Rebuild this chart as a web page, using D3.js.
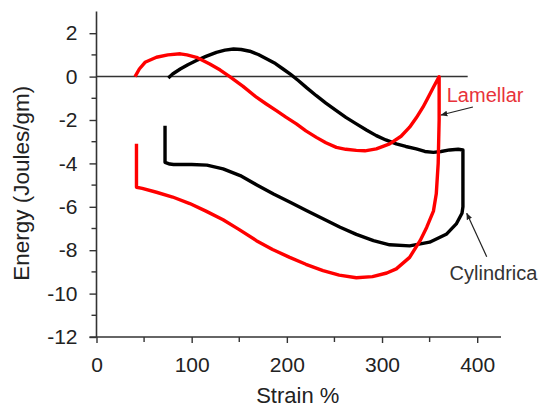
<!DOCTYPE html>
<html><head><meta charset="utf-8">
<script src="https://cdn.jsdelivr.net/npm/d3@7"></script>
<style>
html,body{margin:0;padding:0;background:#fff;}
svg{display:block;font-family:"Liberation Sans",Arial,sans-serif;}
</style></head>
<body><svg id="chart" width="541" height="408"></svg>
<script>
// ---- data (strain %, energy J/gm) ----
const xTicks = [0, 100, 200, 300, 400];
const yTicks = [2, 0, -2, -4, -6, -8, -10, -12];
const seriesNames = ["Lamellar", "Cylindrica"];

const lamellarStrain = [42,42,48,63,80,98,115,133,150,168,185,203,220,238,255,273,290,305,315,329,340,347,354,357,359,360,360,
  354,348,343,336,329,320,308,294,282,273,262,252,241,231,220,210,199,189,178,168,154,140,130,119,105,95,88,75,63,51,45,40.5];
const lamellarEnergy = [-3.1,-5.1,-5.15,-5.33,-5.55,-5.85,-6.2,-6.6,-7.05,-7.56,-7.97,-8.33,-8.65,-8.94,-9.15,-9.27,-9.22,-9.05,-8.86,-8.33,-7.56,-6.94,-6.2,-5.4,-4.0,-2.0,0,
  -0.49,-1.0,-1.41,-1.9,-2.33,-2.75,-3.1,-3.33,-3.42,-3.4,-3.35,-3.26,-3.05,-2.8,-2.5,-2.18,-1.87,-1.57,-1.25,-0.95,-0.45,0,0.3,0.58,0.89,1.0,1.05,1.0,0.89,0.66,0.35,0];

const cylStrain = [72,72,77,81,100,116,133,151,168,186,204,221,238,256,273,291,308,329,350,368,378,384,385,385,380,371,362,354,345,336,325,315,304,294,284,273,262,252,241,231,221,212,204,196,188,179,170,161,152,144,135,126,115,105,96,88,80,75.4];
const cylEnergy = [-2.26,-3.95,-4.03,-4.05,-4.05,-4.08,-4.25,-4.56,-4.98,-5.41,-5.8,-6.18,-6.55,-6.94,-7.27,-7.56,-7.75,-7.8,-7.63,-7.25,-6.79,-6.3,-6.0,-3.38,-3.35,-3.38,-3.45,-3.49,-3.45,-3.33,-3.22,-3.1,-2.92,-2.72,-2.47,-2.18,-1.88,-1.57,-1.22,-0.88,-0.52,-0.18,0.1,0.35,0.6,0.81,1.02,1.17,1.25,1.27,1.22,1.12,0.93,0.74,0.55,0.35,0.12,-0.06];

// annotation anchors (data units): [textX, textY, arrowTailX, arrowTailY, arrowHeadX, arrowHeadY]
const lamellarNote = [368, -0.85, 395.5, -1.4, 362, -1.77];
const cylNote = [371, -9.06, 410, -8.3, 389, -6.3];

// ---- layout ----
const svg = d3.select("#chart");
const x = d3.scaleLinear().domain([0, 425]).range([96.5, 501]);
const y = d3.scaleLinear().domain([-12, 3]).range([337, 11.5]);
const axisColor = "#333";
const textColor = "#222";

// minor ticks
const xMinor = d3.range(50, 425, 100);
const yMinor = d3.range(-11, 3, 2);

// y axis
const gy = svg.append("g").attr("transform", `translate(${x(0)},0)`);
gy.call(d3.axisLeft(y).tickValues(yTicks).tickSize(7).tickPadding(12).tickFormat(d => String(d)));
gy.append("g").selectAll("line").data(yMinor).join("line")
  .attr("x1", -5).attr("x2", 0).attr("y1", d => y(d)).attr("y2", d => y(d));
// x axis
const gx = svg.append("g").attr("transform", `translate(0,${y(-12)})`);
gx.call(d3.axisBottom(x).tickValues(xTicks).tickSize(6).tickPadding(14).tickFormat(d => String(d)));
gx.append("g").selectAll("line").data(xMinor).join("line")
  .attr("x1", d => x(d)).attr("x2", d => x(d)).attr("y1", 0).attr("y2", 5);

[gx, gy].forEach(g => {
  g.select(".domain").attr("stroke", axisColor).attr("stroke-width", 1.6);
  g.selectAll("line").attr("stroke", axisColor).attr("stroke-width", 1.4);
  g.selectAll("text").attr("fill", textColor).attr("font-size", 21).attr("font-family", "Liberation Sans, Arial, sans-serif");
});
gy.select(".domain").attr("d", `M0,${y(3)}V${y(-12)}`);
gx.select(".domain").attr("d", `M${x(0) - 7},0H${x(425)}`);

// zero line
svg.append("line").attr("x1", x(0)).attr("x2", x(390)).attr("y1", y(0)).attr("y2", y(0))
  .attr("stroke", axisColor).attr("stroke-width", 1.5);

// axis titles
svg.append("text").attr("x", (x(0) + x(425)) / 2 - 1).attr("y", 403)
  .attr("text-anchor", "middle").attr("font-size", 22).attr("fill", textColor).text("Strain %");
svg.append("text").attr("transform", `translate(29,${(y(3) + y(-12)) / 2 + 9}) rotate(-90)`)
  .attr("text-anchor", "middle").attr("font-size", 22.5).attr("fill", textColor).text("Energy (Joules/gm)");

// curves
const line = d3.line().x(d => x(d[0])).y(d => y(d[1])).curve(d3.curveLinear);
const lamPts = lamellarStrain.map((s, i) => [s, lamellarEnergy[i]]);
const cylPts = cylStrain.map((s, i) => [s, cylEnergy[i]]);
svg.append("path").datum(cylPts).attr("d", line).attr("fill", "none")
  .attr("stroke", "#000").attr("stroke-width", 3.4).attr("stroke-linejoin", "round");
svg.append("path").datum(lamPts).attr("d", line).attr("fill", "none")
  .attr("stroke", "#ff0000").attr("stroke-width", 3.4).attr("stroke-linejoin", "round");

// arrows
svg.append("defs").append("marker").attr("id", "ah").attr("viewBox", "0 0 10 10")
  .attr("refX", 9).attr("refY", 5).attr("markerWidth", 7).attr("markerHeight", 7)
  .attr("markerUnits", "userSpaceOnUse").attr("orient", "auto")
  .append("path").attr("d", "M0,1L10,5L0,9Z").attr("fill", "#222");
[lamellarNote, cylNote].forEach(n => {
  svg.append("line").attr("x1", x(n[2])).attr("y1", y(n[3])).attr("x2", x(n[4])).attr("y2", y(n[5]))
    .attr("stroke", "#222").attr("stroke-width", 1.2).attr("marker-end", "url(#ah)");
});
svg.append("text").attr("x", x(lamellarNote[0])).attr("y", y(lamellarNote[1])).attr("dy", "0.35em")
  .attr("font-size", 20).attr("fill", "#e8323a").text(seriesNames[0]);
svg.append("text").attr("x", x(cylNote[0])).attr("y", y(cylNote[1])).attr("dy", "0.35em")
  .attr("font-size", 20).attr("fill", "#333").text(seriesNames[1]);
</script></body></html>
